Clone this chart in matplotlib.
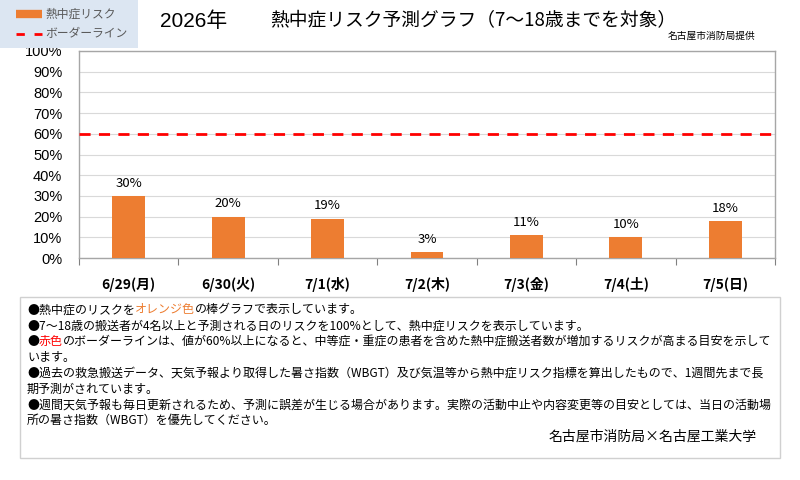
import matplotlib
matplotlib.use("Agg")
import matplotlib.pyplot as plt
from matplotlib.patches import Rectangle
from matplotlib.lines import Line2D

plt.rcParams['font.family'] = ['Noto Sans CJK JP', 'DejaVu Sans']

categories = ["6/29(月)", "6/30(火)", "7/1(水)", "7/2(木)", "7/3(金)", "7/4(土)", "7/5(日)"]
risk = [30, 20, 19, 3, 11, 10, 18]
border = 60
yticks = list(range(0, 101, 10))

ORANGE = "#ED7D31"
RED = "#FF0000"

fig = plt.figure(figsize=(8, 4.8), dpi=100)
W, H = 800, 480

def fx(px):
    return px / W

def fy(py):
    return 1 - py / H

ax = fig.add_axes([fx(79), fy(258), fx(775) - fx(79), fy(51) - fy(258)])
x = list(range(len(categories)))
ax.bar(x, risk, width=0.33, color=ORANGE, zorder=3)
for xi, v in zip(x, risk):
    ax.text(xi, v + 3, f"{v}%", ha="center", va="bottom", fontsize=9.5, color="#000000")
ax.axhline(border, color=RED, linestyle=(0, (4, 3)), linewidth=2, zorder=4)
ax.set_xlim(-0.5, len(categories) - 0.5)
ax.set_ylim(0, 100)
ax.set_yticks(yticks)
ax.set_yticklabels([f"{t}%" for t in yticks], fontsize=10.5, family=['Liberation Sans'])
ax.yaxis.grid(True, color="#d9d9d9", linewidth=0.8, zorder=0)
ax.set_axisbelow(True)
ax.set_xticks([i - 0.5 for i in range(len(categories) + 1)], minor=False)
ax.set_xticklabels([])
ax.set_xticks(x, minor=True)
ax.set_xticklabels(categories, minor=True, fontsize=10, fontweight="bold")
ax.tick_params(axis="x", which="major", length=5, color="#808080")
ax.tick_params(axis="x", which="minor", length=0, pad=14)
ax.tick_params(axis="y", length=0, pad=12)
for s in ax.spines.values():
    s.set_color("#a6a6a6")
    s.set_linewidth(1)

# Legend box
fig.patches.append(Rectangle((0, fy(48)), fx(138), fy(0) - fy(48), transform=fig.transFigure,
                             facecolor="#dce6f2", edgecolor="none", zorder=0))
fig.add_artist(Line2D([fx(16), fx(42)], [fy(14), fy(14)], color=ORANGE, linewidth=6,
                      solid_capstyle="butt", transform=fig.transFigure))
fig.text(fx(45), fy(14), "熱中症リスク", fontsize=8.5, color="#595959", va="center")
fig.add_artist(Line2D([fx(16), fx(42)], [fy(34), fy(34)], color=RED, linewidth=2,
                      linestyle=(0, (3, 3.5)), solid_capstyle="butt", transform=fig.transFigure))
fig.text(fx(45), fy(34), "ボーダーライン", fontsize=8.5, color="#595959", va="center")

# Title
fig.text(fx(160), fy(21), "2026年", fontsize=15, va="center", family=['Liberation Sans', 'Noto Sans CJK JP'])
fig.text(fx(270), fy(21), "熱中症リスク予測グラフ（7～18歳までを対象）", fontsize=13.5, va="center")
fig.text(fx(668), fy(36), "名古屋市消防局提供", fontsize=7, va="center")

# Text box
fig.patches.append(Rectangle((fx(20), fy(458)), fx(780) - fx(20), fy(297) - fy(458),
                             transform=fig.transFigure, facecolor="white",
                             edgecolor="#d0d0d0", linewidth=1, zorder=0))

lines = [
    [("●熱中症のリスクを", "black"), ("オレンジ色", ORANGE), ("の棒グラフで表示しています。", "black")],
    [("●7～18歳の搬送者が4名以上と予測される日のリスクを100%として、熱中症リスクを表示しています。", "black")],
    [("●", "black"), ("赤色", RED), ("のボーダーラインは、値が60%以上になると、中等症・重症の患者を含めた熱中症搬送者数が増加するリスクが高まる目安を示して", "black")],
    [("います。", "black")],
    [("●過去の救急搬送データ、天気予報より取得した暑さ指数（WBGT）及び気温等から熱中症リスク指標を算出したもので、1週間先まで長", "black")],
    [("期予測がされています。", "black")],
    [("●週間天気予報も毎日更新されるため、予測に誤差が生じる場合があります。実際の活動中止や内容変更等の目安としては、当日の活動場", "black")],
    [("所の暑さ指数（WBGT）を優先してください。", "black")],
]

fig.canvas.draw()
renderer = fig.canvas.get_renderer()
y0 = 310
for i, parts in enumerate(lines):
    cx = 27
    yy = y0 + i * 15.8
    for txt, col in parts:
        t = fig.text(fx(cx), fy(yy), txt, fontsize=8.65, color=col, va="center")
        bb = t.get_window_extent(renderer=renderer)
        cx += bb.width
fig.text(fx(757), fy(437), "名古屋市消防局×名古屋工業大学", fontsize=10, ha="right", va="center")

fig.savefig("out.png", dpi=100)
